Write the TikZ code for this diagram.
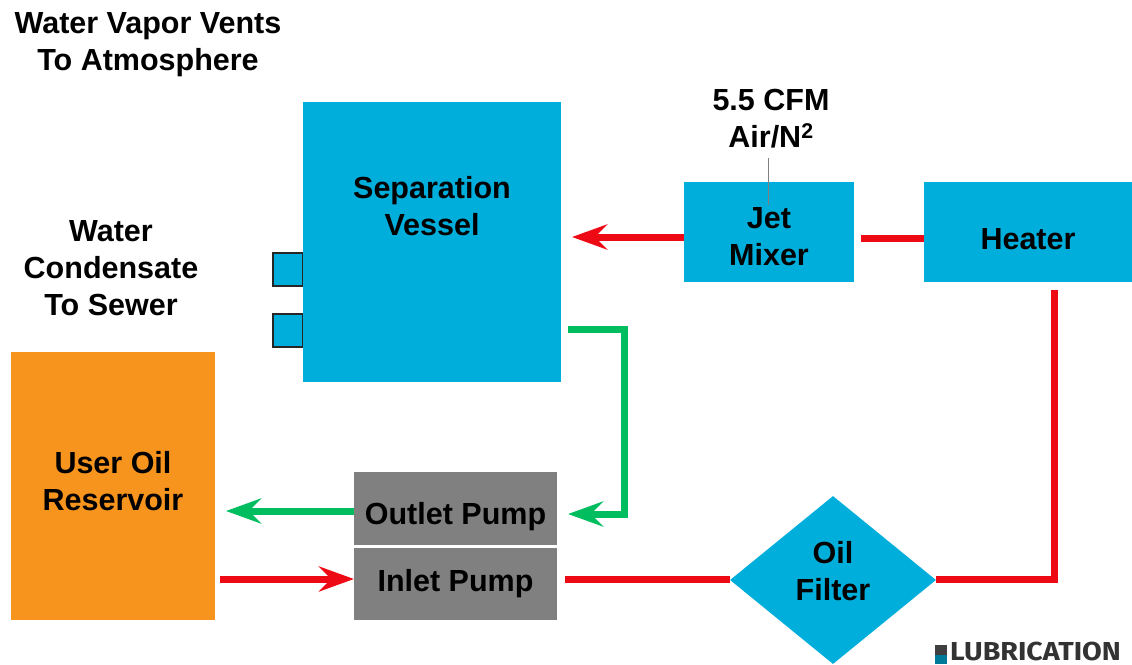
\documentclass[tikz,border=0pt]{standalone}
\usepackage{fontspec}
\setmainfont{Liberation Sans}
\newfontfamily\logofont{Fira Sans}
\usetikzlibrary{arrows.meta,shapes.geometric}
\definecolor{boxblue}{RGB}{0,174,219}
\definecolor{boxorange}{RGB}{247,148,29}
\definecolor{boxgray}{RGB}{128,128,128}
\definecolor{flowred}{RGB}{237,10,20}
\definecolor{flowgreen}{RGB}{0,190,95}
\newcommand\nudge[2]{\raisebox{#1}[\height][\depth]{#2}}
\begin{document}
\begin{tikzpicture}[x=1pt,y=-1pt,line join=miter,>={Stealth[length=35pt,width=25pt,inset=12pt]}]
	\tikzset{every node/.style={font=\fontsize{30.5}{37}\selectfont\bfseries,align=center,inner sep=0pt}}
	\tikzset{bluebox/.style={fill=boxblue},graybox/.style={fill=boxgray},
		redflow/.style={draw=flowred,line width=7pt},greenflow/.style={draw=flowgreen,line width=7pt},
		drainbox/.style={fill=boxblue,draw=black!85,line width=1.5pt,minimum width=30pt,minimum height=33pt}}
	\useasboundingbox (0,0) rectangle (1132,664);
	% boxes
	\node[drainbox] (upperdrain) at (288,269.5) {};
	\node[drainbox] (lowerdrain) at (288,330.5) {};
	\coordinate (supplyend) at (768,158);
	\coordinate (mixertop) at (768,205);
	\node[bluebox,minimum width=258pt,minimum height=280pt] (vessel) at (432,242) {\nudge{36pt}{Separation}\\\nudge{36pt}{Vessel}};
	\node[bluebox,minimum width=170pt,minimum height=100pt] (mixer) at (769,232) {\nudge{-5pt}{Jet}\\\nudge{-5pt}{Mixer}};
	\node[bluebox,minimum width=208pt,minimum height=100pt] (heater) at (1028,232) {\nudge{-7pt}{Heater}};
	\node[fill=boxorange,minimum width=204pt,minimum height=268pt] (reservoir) at (113,486) {\nudge{5pt}{User Oil}\\\nudge{5pt}{Reservoir}};
	\node[graybox,minimum width=203pt,minimum height=73pt] (outlet) at (455.5,508.5) {\nudge{-8pt}{Outlet Pump}};
	\node[graybox,minimum width=203pt,minimum height=72pt] (inlet) at (455.5,584) {Inlet Pump};
	\node[bluebox,diamond,minimum width=206pt,minimum height=168pt] (filter) at (833,580) {\nudge{9pt}{Oil}\\\nudge{9pt}{Filter}};
	% labels
	\node (vapor) at (148,45) {Water Vapor Vents\\To Atmosphere};
	\node (condensate) at (111,268) {Water\\Condensate\\To Sewer};
	\node (supply) at (771,119) {5.5 CFM\\Air/N\textsuperscript{2}};
	\draw[gray,line width=1pt] (supplyend) -- (mixertop);
	% gaps between the flow lines and the boxes
	\coordinate (vesselin) at (572,237);
	\coordinate (mixerout) at (684,237);
	\coordinate (mixerin) at (861,238);
	\coordinate (heaterout) at (924,238);
	\coordinate (heaterdown) at (1054,290);
	\coordinate (corner) at (1054,579);
	\coordinate (filterright) at (936,579);
	\coordinate (filterleft) at (730,579);
	\coordinate (inletright) at (565,579);
	\coordinate (inletleft) at (354,579);
	\coordinate (reservoirout) at (220,579);
	\coordinate (vesselout) at (568,329);
	\coordinate (greentop) at (624,329);
	\coordinate (greenlow) at (624,514);
	\coordinate (outletin) at (568,514);
	\coordinate (outletout) at (354,511);
	\coordinate (reservoirin) at (226,511);
	% oil lines
	\draw[redflow,->] (mixerout) -- (vesselin);
	\draw[redflow] (mixerin) -- (heaterout);
	\draw[redflow] (heaterdown) -- (corner) -- (filterright);
	\draw[redflow] (filterleft) -- (inletright);
	\draw[redflow,->] (reservoirout) -- (inletleft);
	\draw[greenflow,->] (vesselout) -- (greentop) -- (greenlow) -- (outletin);
	\draw[greenflow,->] (outletout) -- (reservoirin);
	% logo
	\fill[black!75] (935,645) rectangle (947,655);
	\fill[boxblue!70!black] (935,655) rectangle (947,664);
	\node[anchor=base west,font=\logofont\bfseries\fontsize{26}{26}\selectfont,text=black!80,xscale=1.1] (logo) at (950,660) {LUBRICATION};
\end{tikzpicture}
\end{document}
